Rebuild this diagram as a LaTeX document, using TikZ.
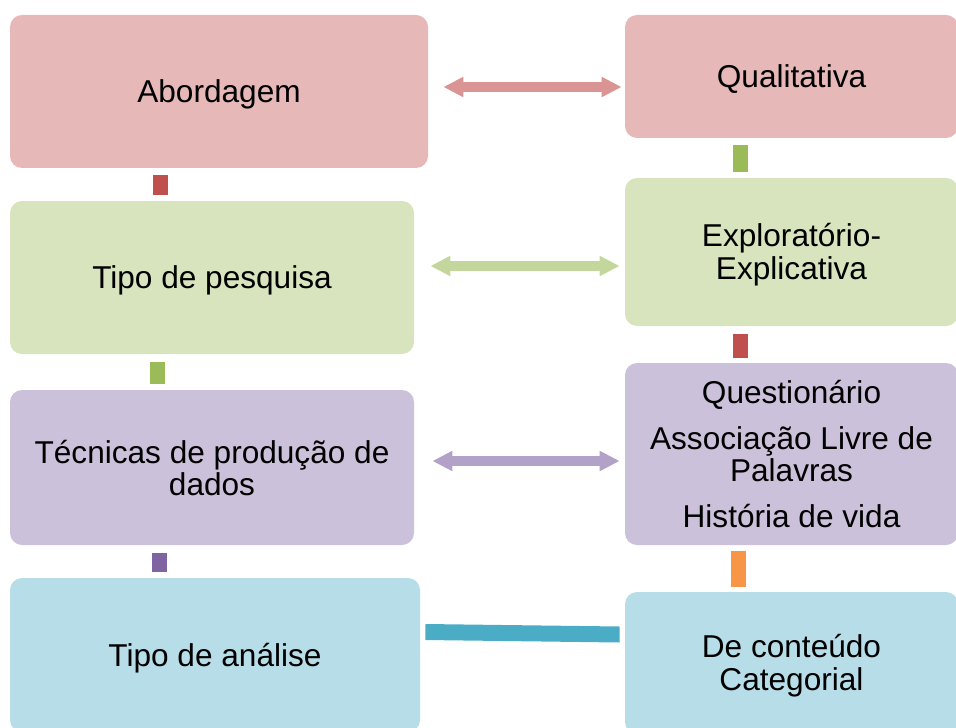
\documentclass[tikz,border=0pt]{standalone}
\usepackage{fontspec}
\setmainfont{Liberation Sans}
\usetikzlibrary{arrows.meta,positioning,calc}
\definecolor{boxred}{RGB}{230,184,183}
\definecolor{boxgreen}{RGB}{215,228,189}
\definecolor{boxpurple}{RGB}{204,193,218}
\definecolor{boxblue}{RGB}{183,222,232}
\definecolor{arrred}{RGB}{218,148,147}
\definecolor{arrgreen}{RGB}{195,214,155}
\definecolor{arrpurple}{RGB}{178,162,199}
\definecolor{barred}{RGB}{192,80,77}
\definecolor{bargreen}{RGB}{155,187,89}
\definecolor{barpurple}{RGB}{128,100,162}
\definecolor{barorange}{RGB}{247,150,70}
\definecolor{barteal}{RGB}{75,172,198}
\newcommand{\lo}[2][1.5pt]{\raisebox{-#1}[\height][\depth]{#2}}
\newcommand{\two}[2]{\begin{tabular}{@{}c@{}}#1\\#2\end{tabular}}

\begin{document}
\begin{tikzpicture}[x=0.5pt,y=-0.5pt,font=\fontsize{15.8}{15.8}\selectfont,
  box/.style={rounded corners=6pt,inner sep=0pt,align=center},
  lbox/.style={box,minimum width=202pt,minimum height=76.5pt},
  rbox/.style={box,minimum width=166.5pt},
  dbl/.style={{Triangle[length=10pt,width=9.5pt]}-{Triangle[length=10pt,width=9.5pt]},line width=5pt},
  vbar/.style={line width=7.5pt}]
  \useasboundingbox (0,0) rectangle (956,727);
  \clip (0,0) rectangle (956,727);
  % left column
  \node[lbox,fill=boxred,minimum width=209pt] (abord) at (219,91.5) {\lo{Abordagem}};
  \node[lbox,fill=boxgreen] (pesq) at (212,277.5) {\lo{Tipo de pesquisa}};
  \node[lbox,fill=boxpurple,minimum height=77.5pt] (tec) at (212,467.5)
    {\lo[2.5pt]{\two{T\'ecnicas de produ\c{c}\~ao de}{dados}}};
  \node[lbox,fill=boxblue,minimum width=205pt,minimum height=77pt] (anal) at (215,655) {\lo{Tipo de an\'alise}};
  % right column
  \node[rbox,fill=boxred,minimum height=61.5pt] (quali) at (791.5,76.5) {\lo{Qualitativa}};
  \node[rbox,fill=boxgreen,minimum height=74pt] (expl) at (791.5,252)
    {\lo[2pt]{\two{Explorat\'orio-}{Explicativa}}};
  \node[rbox,fill=boxpurple,minimum height=91pt] (quest) at (791.5,454)
    {Question\'ario\\[7.5pt]Associa\c{c}\~ao Livre de\\Palavras\\[7.5pt]Hist\'oria de vida};
  \node[rbox,fill=boxblue,minimum height=71pt] (cont) at (791.5,663)
    {\lo[2pt]{\two{De conte\'udo}{Categorial}}};
  % horizontal links
  \draw[dbl,arrred] ([xshift=7.5pt,yshift=2.25pt]abord.east) -- ([xshift=-1.5pt,yshift=-5.25pt]quali.west);
  \draw[dbl,arrgreen] ([xshift=8pt,yshift=5.75pt]pesq.east) -- ([xshift=-2.5pt,yshift=-7pt]expl.west);
  \draw[dbl,arrpurple] ([xshift=9pt,yshift=3.25pt]tec.east) -- ([xshift=-2.5pt,yshift=-3.5pt]quest.west);
  \draw[barteal,line width=8pt] ([xshift=2.5pt,yshift=11.5pt]anal.east) -- ([xshift=-2.5pt,yshift=14.25pt]cont.west);
  % vertical links
  \draw[vbar,barred] ([xshift=75.25pt,yshift=-3.5pt]abord.south west) -- ([xshift=75.25pt,yshift=3pt]pesq.north west);
  \draw[vbar,bargreen] ([xshift=74pt,yshift=-4pt]pesq.south west) -- ([xshift=74pt,yshift=3pt]tec.north west);
  \draw[vbar,barpurple] ([xshift=74.75pt,yshift=-4pt]tec.south west) -- ([xshift=74.75pt,yshift=3pt]anal.north west);
  \draw[vbar,bargreen] ([xshift=58pt,yshift=-3.5pt]quali.south west) -- ([xshift=58pt,yshift=3pt]expl.north west);
  \draw[vbar,barred] ([xshift=58pt,yshift=-4pt]expl.south west) -- ([xshift=58pt,yshift=2.5pt]quest.north west);
  \draw[vbar,barorange] ([xshift=57pt,yshift=-3pt]quest.south west) -- ([xshift=57pt,yshift=2.5pt]cont.north west);
\end{tikzpicture}
\end{document}
